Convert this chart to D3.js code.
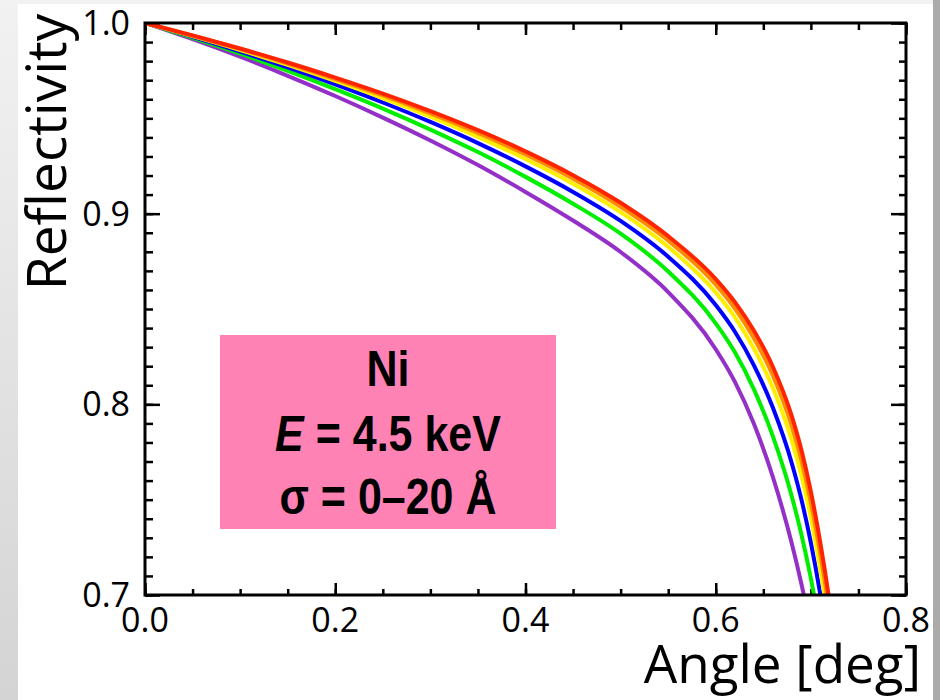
<!DOCTYPE html>
<html>
<head>
<meta charset="UTF-8">
<title>Reflectivity vs angle</title>
<script src="https://cdn.jsdelivr.net/npm/d3@7"></script>
<style>
    body { margin: 0; }
    svg { display: block; }
</style>
</head>
<body>
<script>

//Grazing angles (deg) shared by all curves.
var angles = [0, 0.05, 0.1, 0.15, 0.2, 0.25, 0.3, 0.35, 0.4, 0.45, 0.5, 0.55, 0.6, 0.62, 0.64, 0.66, 0.68, 0.69, 0.7, 0.71, 0.72, 0.73];

//Reflectivity for each roughness (smoothest first).
var reflRed    = [1.0, 0.9935, 0.9866, 0.9793, 0.9714, 0.9630, 0.9538, 0.9438, 0.9327, 0.9202, 0.9057, 0.8882, 0.8657, 0.8537, 0.8387, 0.8197, 0.7937, 0.7762, 0.7542, 0.7272, 0.6952, 0.6572];
var reflOrange = [1.0, 0.9933, 0.9863, 0.9787, 0.9706, 0.9620, 0.9526, 0.9423, 0.9310, 0.9183, 0.9036, 0.8859, 0.8628, 0.8504, 0.8348, 0.8151, 0.7884, 0.7706, 0.7484, 0.7213, 0.6893, 0.6515];
var reflYellow = [1.0, 0.9931, 0.9858, 0.9780, 0.9696, 0.9606, 0.9509, 0.9403, 0.9287, 0.9157, 0.9008, 0.8826, 0.8587, 0.8458, 0.8294, 0.8087, 0.7810, 0.7628, 0.7405, 0.7133, 0.6813, 0.6437];
var reflBlue   = [1.0, 0.9928, 0.9850, 0.9767, 0.9678, 0.9583, 0.9481, 0.9370, 0.9248, 0.9114, 0.8962, 0.8774, 0.8521, 0.8382, 0.8206, 0.7983, 0.7690, 0.7502, 0.7274, 0.7001, 0.6681, 0.6308];
var reflGreen  = [1.0, 0.9922, 0.9839, 0.9749, 0.9653, 0.9551, 0.9441, 0.9323, 0.9193, 0.9052, 0.8895, 0.8697, 0.8425, 0.8274, 0.8080, 0.7833, 0.7516, 0.7319, 0.7087, 0.6810, 0.6490, 0.6123];
var reflPurple = [1.0, 0.9915, 0.9823, 0.9723, 0.9617, 0.9504, 0.9384, 0.9255, 0.9114, 0.8964, 0.8799, 0.8589, 0.8289, 0.8119, 0.7899, 0.7619, 0.7269, 0.7059, 0.6819, 0.6539, 0.6219, 0.5859];

var seriesColors = ["#9430c8", "#00ee00", "#0000ff", "#ffee00", "#ff8c00", "#ff2400"];

var xTicks = [0, 0.2, 0.4, 0.6, 0.8],
    xTickLabels = ["0.0", "0.2", "0.4", "0.6", "0.8"];
var yTicks = [0.7, 0.8, 0.9, 1.0],
    yTickLabels = ["0.7", "0.8", "0.9", "1.0"];
var xMinor = d3.range(0, 0.8001, 0.05),
    yMinor = d3.range(0.7, 1.0001, 0.01);

var boxLines = ["Ni", "E = 4.5 keV", "σ = 0–20 Å"];

var width = 940, height = 700;
//Plot area edges (don't call these top/left: window.top is read-only).
var plotLeft = 145, plotRight = 906, plotTop = 23, plotBottom = 595;

var svg = d3.select("body").append("svg")
            .attr("width", width)
            .attr("height", height);

//Grey slide frame behind the white page.
var defs = svg.append("defs");
var grad = defs.append("linearGradient")
               .attr("id", "bgGrad")
               .attr("x1", 0).attr("y1", 0).attr("x2", 0).attr("y2", 1);
grad.append("stop").attr("offset", "0%").attr("stop-color", "#f2f2f2");
grad.append("stop").attr("offset", "100%").attr("stop-color", "#d4d4d4");
defs.append("clipPath").attr("id", "plotClip")
    .append("rect")
      .attr("x", plotLeft).attr("y", plotTop)
      .attr("width", plotRight - plotLeft).attr("height", plotBottom - plotTop);

svg.append("rect").attr("width", width).attr("height", height).attr("fill", "url(#bgGrad)");
svg.append("rect").attr("x", 933).attr("width", 7).attr("height", height).attr("fill", "#ababab");
svg.append("rect").attr("x", 18).attr("y", 4).attr("width", 915).attr("height", height - 4).attr("fill", "#ffffff");

var x = d3.scaleLinear().domain([0, 0.8]).range([plotLeft, plotRight]);
var y = d3.scaleLinear().domain([0.7, 1.0]).range([plotBottom, plotTop]);

//Ticks on all four sides, pointing inwards.
function addAxis(axisFn, transform, values, size) {
    svg.append("g")
       .attr("transform", transform)
       .call(axisFn.tickValues(values).tickSize(-size).tickFormat(""))
       .call(function (g) { g.select(".domain").remove(); })
       .selectAll("line")
         .attr("stroke", "#000")
         .attr("stroke-width", 2.5);
}
addAxis(d3.axisBottom(x), "translate(0," + plotBottom + ")", xMinor, 6);
addAxis(d3.axisBottom(x), "translate(0," + plotBottom + ")", xTicks, 12);
addAxis(d3.axisTop(x), "translate(0," + plotTop + ")", xMinor, 7);
addAxis(d3.axisTop(x), "translate(0," + plotTop + ")", xTicks, 12);
addAxis(d3.axisLeft(y), "translate(" + plotLeft + ",0)", yMinor, 8);
addAxis(d3.axisLeft(y), "translate(" + plotLeft + ",0)", yTicks, 15);
addAxis(d3.axisRight(y), "translate(" + plotRight + ",0)", yMinor, 7);
addAxis(d3.axisRight(y), "translate(" + plotRight + ",0)", yTicks, 15);

//Curves.
var allSeries = [reflPurple, reflGreen, reflBlue, reflYellow, reflOrange, reflRed];
var line = d3.line()
             .x(function (d, i) { return x(angles[i]); })
             .y(function (d) { return y(d); })
             .curve(d3.curveMonotoneX);

svg.append("g")
   .attr("clip-path", "url(#plotClip)")
   .selectAll("path")
   .data(allSeries)
   .enter().append("path")
     .attr("d", line)
     .attr("fill", "none")
     .attr("stroke", function (d, i) { return seriesColors[i]; })
     .attr("stroke-width", 4)
     .attr("stroke-linejoin", "round");

//Frame.
svg.append("rect")
   .attr("x", plotLeft).attr("y", plotTop)
   .attr("width", plotRight - plotLeft).attr("height", plotBottom - plotTop)
   .attr("fill", "none")
   .attr("stroke", "#000")
   .attr("stroke-width", 3);

//Tick labels.
var labelFont = "'Open Sans', 'DejaVu Sans', sans-serif";
svg.append("g").selectAll("text")
   .data(xTicks)
   .enter().append("text")
     .attr("x", function (d) { return x(d); })
     .attr("y", 632)
     .attr("text-anchor", "middle")
     .attr("font-family", labelFont)
     .attr("font-size", 34)
     .text(function (d, i) { return xTickLabels[i]; });

svg.append("g").selectAll("text")
   .data(yTicks)
   .enter().append("text")
     .attr("x", 130)
     .attr("y", function (d) { return y(d) + 12; })
     .attr("text-anchor", "end")
     .attr("font-family", labelFont)
     .attr("font-size", 34)
     .text(function (d, i) { return yTickLabels[i]; });

//Axis titles.
svg.append("text")
   .attr("x", 921).attr("y", 683)
   .attr("text-anchor", "end")
   .attr("font-family", labelFont)
   .attr("font-size", 53)
   .text("Angle [deg]");

svg.append("text")
   .attr("transform", "translate(66,152) rotate(-90)")
   .attr("text-anchor", "middle")
   .attr("font-family", labelFont)
   .attr("font-size", 55)
   .text("Reflectivity");

//Pink annotation box.
svg.append("rect")
   .attr("x", 220).attr("y", 335)
   .attr("width", 336).attr("height", 194)
   .attr("fill", "#ff82b5");

var boxText = svg.append("g")
                 .attr("transform", "translate(388,0) scale(0.86,1)")
                 .attr("font-family", "'Liberation Sans', Arial, sans-serif")
                 .attr("font-weight", "bold")
                 .attr("font-size", 50)
                 .attr("text-anchor", "middle");
boxText.append("text").attr("y", 386).text(boxLines[0]);
var eLine = boxText.append("text").attr("y", 451);
eLine.append("tspan").attr("font-style", "italic").text(boxLines[1].slice(0, 1));
eLine.append("tspan").text(boxLines[1].slice(1));
boxText.append("text").attr("y", 514).text(boxLines[2]);

</script>
</body>
</html>
